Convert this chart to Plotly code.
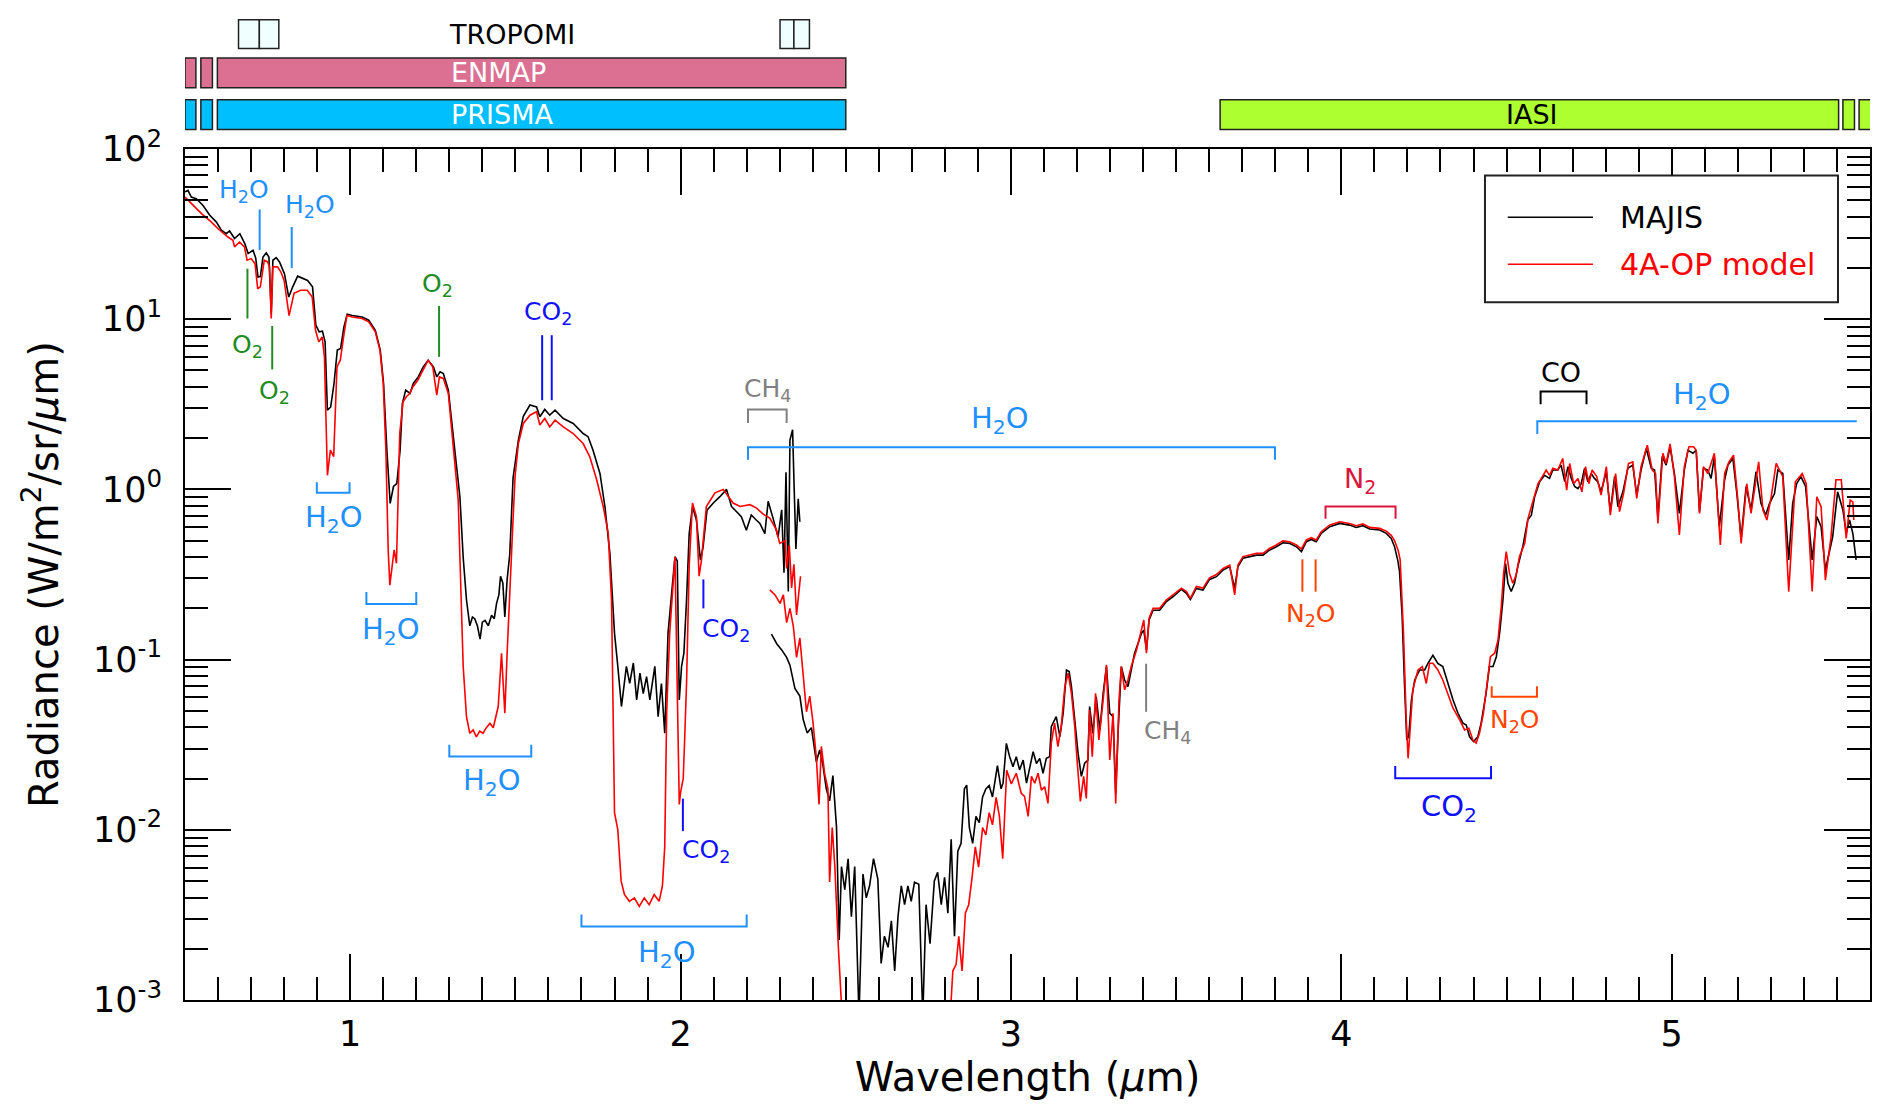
import math

import plotly.graph_objects as go

# Spectra: wavelength in µm, radiance in W/m2/sr/µm.
# MAJIS VIS-NIR channel (black, upper part)
majis_vis_wl = [
    0.5, 0.509, 0.519, 0.534, 0.554, 0.575, 0.595, 0.61, 0.625, 0.635,
    0.65, 0.666, 0.681, 0.691, 0.706, 0.714, 0.721, 0.728, 0.736, 0.746,
    0.754, 0.761, 0.766, 0.776, 0.786, 0.801, 0.814, 0.826, 0.841, 0.856,
    0.871, 0.886, 0.896, 0.906, 0.916, 0.924, 0.931, 0.941, 0.951, 0.961,
    0.971, 0.981, 0.991, 1.006, 1.036, 1.056, 1.076, 1.091, 1.101, 1.111,
    1.121, 1.131, 1.141, 1.151, 1.158, 1.168, 1.181, 1.191, 1.206, 1.221,
    1.236, 1.252, 1.262, 1.272, 1.282, 1.297, 1.312, 1.322, 1.332, 1.342,
    1.352, 1.362, 1.37, 1.377, 1.385, 1.393, 1.4, 1.408, 1.418, 1.428,
    1.436, 1.443, 1.45, 1.455, 1.462, 1.468, 1.475, 1.483, 1.493, 1.509,
    1.524, 1.544, 1.564, 1.574, 1.589, 1.604, 1.62, 1.645, 1.675, 1.705,
    1.72, 1.735, 1.756, 1.771, 1.786, 1.8, 1.81, 1.821, 1.836, 1.846,
    1.857, 1.867, 1.877, 1.887, 1.897, 1.907, 1.922, 1.932, 1.942, 1.952,
    1.962, 1.972, 1.983, 1.99, 1.996, 2.003, 2.01, 2.018, 2.026, 2.036,
    2.048, 2.06, 2.068, 2.08, 2.099, 2.119, 2.139, 2.154, 2.169, 2.184,
    2.199, 2.214, 2.229, 2.24, 2.255, 2.265, 2.28, 2.295, 2.306, 2.313,
    2.319, 2.326, 2.331, 2.339, 2.343, 2.349, 2.356, 2.361,
]
majis_vis_rad = [
    56.0, 57.1, 52.2, 51.0, 46.7, 40.8, 37.2, 33.3, 31.8, 33.0,
    29.8, 31.8, 27.8, 24.3, 25.4, 22.9, 17.7, 17.8, 23.2, 24.5,
    23.2, 10.8, 22.2, 23.0, 21.7, 18.5, 13.5, 15.5, 17.9, 17.3,
    16.9, 15.5, 9.23, 8.43, 8.51, 7.36, 2.92, 3.05, 4.19, 6.58,
    6.73, 9.02, 10.7, 10.5, 10.3, 9.86, 8.61, 6.58, 4.19, 1.70,
    0.828, 1.04, 1.08, 1.70, 3.20, 3.83, 3.66, 4.19, 4.58, 5.25,
    5.74, 5.25, 4.58, 4.91, 4.79, 3.83, 1.95, 1.36, 0.906, 0.398,
    0.224, 0.158, 0.178, 0.174, 0.158, 0.132, 0.166, 0.170, 0.158, 0.182,
    0.174, 0.214, 0.240, 0.309, 0.282, 0.178, 0.295, 0.417, 1.17, 1.95,
    2.69, 3.13, 3.05, 2.67, 2.95, 2.73, 2.92, 2.61, 2.44, 2.13,
    2.04, 1.70, 1.24, 0.791, 0.421, 0.143, 0.0912, 0.0530, 0.0912, 0.0724,
    0.0955, 0.0579, 0.0832, 0.0631, 0.0794, 0.0579, 0.0912, 0.0462, 0.0724, 0.0369,
    0.143, 0.224, 0.402, 0.380, 0.0579, 0.0912, 0.109, 0.224, 0.551, 0.791,
    0.661, 0.384, 0.457, 0.755, 0.832, 0.906, 1.0, 0.794, 0.741, 0.692,
    0.575, 0.708, 0.661, 0.631, 0.550, 0.851, 0.676, 0.525, 0.759, 0.324,
    1.26, 0.251, 1.95, 2.24, 1.15, 0.447, 0.881, 0.646,
]

# MAJIS IR channel (black, lower part)
majis_ir_wl = [
    2.275, 2.291, 2.306, 2.321, 2.331, 2.346, 2.361, 2.371, 2.383, 2.396,
    2.411, 2.421, 2.431, 2.441, 2.451, 2.461, 2.472, 2.48, 2.487, 2.497,
    2.507, 2.517, 2.527, 2.54, 2.552, 2.562, 2.572, 2.584, 2.597, 2.607,
    2.617, 2.628, 2.638, 2.648, 2.658, 2.668, 2.678, 2.688, 2.698, 2.708,
    2.721, 2.733, 2.743, 2.755, 2.768, 2.778, 2.789, 2.799, 2.809, 2.819,
    2.829, 2.839, 2.849, 2.859, 2.866, 2.874, 2.884, 2.894, 2.904, 2.914,
    2.924, 2.934, 2.944, 2.959, 2.97, 2.976, 2.986, 2.996, 3.006, 3.016,
    3.026, 3.037, 3.047, 3.057, 3.067, 3.077, 3.087, 3.097, 3.107, 3.117,
    3.122, 3.132, 3.137, 3.148, 3.158, 3.168, 3.176, 3.183, 3.193, 3.203,
    3.213, 3.223, 3.233, 3.238, 3.248, 3.258, 3.269, 3.279, 3.289, 3.299,
    3.309, 3.317, 3.324, 3.334, 3.344, 3.354, 3.364, 3.374, 3.385, 3.395,
    3.402, 3.41, 3.418, 3.43, 3.45, 3.47, 3.49, 3.516, 3.531, 3.543,
    3.561, 3.581, 3.601, 3.622, 3.642, 3.662, 3.677, 3.687, 3.702, 3.722,
    3.743, 3.763, 3.783, 3.803, 3.823, 3.843, 3.864, 3.879, 3.894, 3.909,
    3.924, 3.939, 3.965, 3.995, 4.025, 4.045, 4.065, 4.086, 4.116, 4.136,
    4.151, 4.161, 4.171, 4.176, 4.184, 4.191, 4.198, 4.204, 4.212, 4.222,
    4.237, 4.252, 4.262, 4.277, 4.292, 4.307, 4.322, 4.338, 4.353, 4.368,
    4.378, 4.388, 4.4, 4.413, 4.423, 4.438, 4.448, 4.459, 4.469, 4.479,
    4.489, 4.497, 4.504, 4.514, 4.524, 4.534, 4.549, 4.564, 4.575, 4.585,
    4.6, 4.615, 4.63, 4.64, 4.655, 4.665, 4.676, 4.686, 4.696, 4.706,
    4.716, 4.726, 4.736, 4.746, 4.756, 4.766, 4.776, 4.786, 4.802, 4.814,
    4.827, 4.837, 4.852, 4.867, 4.882, 4.894, 4.907, 4.923, 4.938, 4.948,
    4.958, 4.971, 4.983, 4.995, 5.008, 5.023, 5.038, 5.049, 5.064, 5.074,
    5.084, 5.096, 5.109, 5.119, 5.129, 5.144, 5.16, 5.17, 5.185, 5.197,
    5.21, 5.225, 5.24, 5.255, 5.27, 5.284, 5.296, 5.311, 5.321, 5.336,
    5.354, 5.366, 5.378, 5.391, 5.405, 5.425, 5.439, 5.452, 5.465, 5.477,
    5.487, 5.502, 5.518, 5.528, 5.538, 5.548, 5.558,
]
majis_ir_rad = [
    0.141, 0.124, 0.114, 0.103, 0.0927, 0.0676, 0.061, 0.0446, 0.0371, 0.0398,
    0.0251, 0.0295, 0.0238, 0.0174, 0.0148, 0.0208, 0.0103, 0.00225, 0.00608, 0.00445,
    0.00676, 0.00309, 0.00608, 0.000794, 0.0055, 0.00398, 0.00469, 0.00676, 0.00513, 0.00164,
    0.00237, 0.00204, 0.00292, 0.00148, 0.00309, 0.00469, 0.00363, 0.00468, 0.0038, 0.00493,
    0.00479, 0.000794, 0.00363, 0.00214, 0.00501, 0.00562, 0.00363, 0.00525, 0.00324, 0.00879,
    0.00237, 0.0075, 0.00832, 0.0174, 0.0183, 0.0103, 0.00832, 0.012, 0.011, 0.0156,
    0.0174, 0.0182, 0.0156, 0.0238, 0.0174, 0.0188, 0.0322, 0.0269, 0.0235, 0.0269,
    0.0225, 0.0257, 0.0188, 0.0234, 0.0288, 0.0245, 0.0263, 0.0215, 0.0263, 0.0269,
    0.0404, 0.0442, 0.0462, 0.0353, 0.0484, 0.0869, 0.0851, 0.0693, 0.0442, 0.0282,
    0.0206, 0.0246, 0.0257, 0.053, 0.0369, 0.0605, 0.0386, 0.0634, 0.091, 0.0484,
    0.0462, 0.0164, 0.0369, 0.091, 0.0759, 0.0693, 0.0869, 0.109, 0.125, 0.143,
    0.149, 0.114, 0.171, 0.195, 0.195, 0.219, 0.234, 0.259, 0.245, 0.226,
    0.262, 0.256, 0.296, 0.307, 0.336, 0.352, 0.262, 0.352, 0.394, 0.402,
    0.411, 0.411, 0.441, 0.460, 0.486, 0.482, 0.460, 0.431, 0.493, 0.508,
    0.493, 0.551, 0.604, 0.631, 0.617, 0.598, 0.612, 0.585, 0.577, 0.552,
    0.515, 0.460, 0.38, 0.33, 0.179, 0.0724, 0.0337, 0.0355, 0.0579, 0.0759,
    0.0869, 0.0869, 0.0951, 0.106, 0.0951, 0.091, 0.0724, 0.0579, 0.0484, 0.0423,
    0.0413, 0.0352, 0.033, 0.0352, 0.0423, 0.0634, 0.091, 0.091, 0.104, 0.143,
    0.224, 0.367, 0.281, 0.251, 0.281, 0.352, 0.46, 0.661, 0.706, 0.906,
    1.11, 1.21, 1.16, 1.30, 1.30, 1.39, 1.11, 1.36, 1.16, 1.04,
    1.01, 1.08, 1.33, 1.11, 1.24, 1.16, 1.11, 0.968, 1.27, 0.74,
    1.19, 0.791, 0.968, 1.33, 1.39, 0.927, 1.30, 1.74, 1.33, 1.30,
    0.676, 1.56, 1.39, 1.78, 1.24, 0.723, 1.30, 1.70, 1.63, 1.70,
    0.74, 1.33, 1.30, 1.16, 1.56, 0.604, 1.14, 1.39, 1.52, 0.946,
    0.515, 1.04, 0.757, 1.27, 0.828, 0.706, 0.828, 0.946, 1.30, 1.24,
    0.385, 0.828, 1.08, 1.19, 1.04, 0.385, 0.692, 0.604, 0.336, 0.431,
    0.527, 0.968, 0.757, 0.552, 0.661, 0.552, 0.385,
]

# 4A-OP model, VIS-NIR part (red, upper part)
model_vis_wl = [
    0.5, 0.52, 0.55, 0.58, 0.6, 0.63, 0.645, 0.65, 0.665, 0.68,
    0.688, 0.7, 0.712, 0.72, 0.728, 0.74, 0.75, 0.756, 0.761, 0.766,
    0.78, 0.79, 0.8, 0.815, 0.83, 0.85, 0.87, 0.885, 0.895, 0.905,
    0.915, 0.922, 0.931, 0.94, 0.95, 0.96, 0.97, 0.98, 0.99, 1.006,
    1.036, 1.056, 1.076, 1.09, 1.1, 1.108, 1.115, 1.12, 1.127, 1.133,
    1.14, 1.15, 1.16, 1.17, 1.18, 1.19, 1.205, 1.22, 1.236, 1.25,
    1.262, 1.27, 1.282, 1.297, 1.312, 1.327, 1.332, 1.342, 1.352, 1.362,
    1.372, 1.382, 1.392, 1.402, 1.412, 1.423, 1.433, 1.448, 1.458, 1.468,
    1.475, 1.483, 1.491, 1.499, 1.509, 1.524, 1.544, 1.564, 1.574, 1.589,
    1.604, 1.62, 1.645, 1.675, 1.705, 1.725, 1.746, 1.766, 1.781, 1.791,
    1.796, 1.8, 1.81, 1.82, 1.83, 1.845, 1.86, 1.875, 1.89, 1.905,
    1.92, 1.935, 1.945, 1.952, 1.958, 1.967, 1.983, 1.99, 1.996, 2.0,
    2.008, 2.013, 2.018, 2.026, 2.036, 2.048, 2.056, 2.063, 2.078, 2.104,
    2.129, 2.144, 2.159, 2.18, 2.21, 2.23, 2.25, 2.27, 2.29, 2.3,
    2.316, 2.321, 2.329, 2.336, 2.343, 2.351, 2.363,
]
model_vis_rad = [
    52.2, 47.8, 41.7, 37.2, 34.0, 30.4, 29.1, 26.6, 28.4, 26.6,
    22.2, 22.7, 21.2, 15.1, 15.5, 22.2, 21.7, 20.3, 10.1, 20.3,
    20.3, 19.0, 16.9, 10.5, 14.2, 14.8, 14.8, 13.5, 8.61, 7.36,
    7.87, 6.01, 1.21, 1.70, 1.56, 5.25, 5.74, 7.87, 10.5, 10.3,
    10.1, 9.64, 8.43, 6.58, 4.19, 1.70, 0.441, 0.274, 0.352, 0.441,
    0.368, 2.13, 3.27, 3.50, 3.66, 4.01, 4.39, 5.02, 5.74, 5.25,
    3.58, 4.58, 4.49, 3.66, 1.86, 0.865, 0.402, 0.091, 0.0462, 0.0369,
    0.0386, 0.0352, 0.038, 0.0369, 0.0398, 0.0423, 0.0398, 0.053, 0.109, 0.0484,
    0.109, 0.224, 0.551, 1.19, 1.86, 2.44, 2.73, 2.86, 2.39, 2.61,
    2.33, 2.55, 2.33, 2.13, 1.86, 1.56, 1.14, 0.791, 0.551, 0.224,
    0.0579, 0.0126, 0.0100, 0.00501, 0.00417, 0.0038, 0.00398, 0.00355, 0.00398, 0.00363,
    0.00417, 0.0038, 0.00468, 0.00794, 0.0501, 0.143, 0.402, 0.0724, 0.0141, 0.0166,
    0.020, 0.0372, 0.0724, 0.355, 0.832, 0.692, 0.309, 0.380, 0.794, 0.955,
    1.0, 0.912, 0.832, 0.794, 0.813, 0.776, 0.715, 0.678, 0.579, 0.482,
    0.501, 0.343, 0.470, 0.264, 0.363, 0.183, 0.309,
]

# 4A-OP model, IR part (red, lower part)
model_ir_wl = [
    2.27, 2.286, 2.301, 2.311, 2.321, 2.331, 2.341, 2.351, 2.361, 2.371,
    2.381, 2.391, 2.401, 2.411, 2.419, 2.426, 2.436, 2.446, 2.451, 2.459,
    2.467, 2.477, 2.487, 2.5, 2.55, 2.65, 2.75, 2.81, 2.824, 2.834,
    2.842, 2.852, 2.862, 2.872, 2.882, 2.892, 2.902, 2.914, 2.924, 2.934,
    2.944, 2.955, 2.965, 2.975, 2.987, 3.001, 3.016, 3.031, 3.041, 3.052,
    3.062, 3.072, 3.082, 3.092, 3.102, 3.112, 3.122, 3.132, 3.142, 3.152,
    3.163, 3.173, 3.183, 3.193, 3.2, 3.21, 3.22, 3.228, 3.238, 3.246,
    3.256, 3.266, 3.279, 3.289, 3.299, 3.309, 3.317, 3.327, 3.334, 3.344,
    3.354, 3.364, 3.38, 3.395, 3.402, 3.41, 3.418, 3.43, 3.45, 3.47,
    3.49, 3.516, 3.531, 3.543, 3.561, 3.581, 3.601, 3.622, 3.642, 3.662,
    3.677, 3.687, 3.702, 3.722, 3.743, 3.763, 3.783, 3.803, 3.823, 3.843,
    3.864, 3.879, 3.894, 3.909, 3.924, 3.939, 3.965, 3.995, 4.025, 4.045,
    4.065, 4.086, 4.116, 4.136, 4.151, 4.161, 4.172, 4.178, 4.188, 4.196,
    4.202, 4.208, 4.216, 4.232, 4.245, 4.257, 4.267, 4.277, 4.292, 4.307,
    4.322, 4.338, 4.358, 4.373, 4.386, 4.398, 4.408, 4.418, 4.43, 4.444,
    4.451, 4.464, 4.474, 4.484, 4.491, 4.499, 4.509, 4.519, 4.529, 4.539,
    4.555, 4.565, 4.58, 4.595, 4.605, 4.62, 4.63, 4.64, 4.655, 4.67,
    4.682, 4.691, 4.703, 4.716, 4.728, 4.739, 4.749, 4.759, 4.773, 4.786,
    4.802, 4.814, 4.83, 4.842, 4.854, 4.869, 4.882, 4.894, 4.907, 4.926,
    4.941, 4.951, 4.958, 4.973, 4.983, 4.995, 5.008, 5.023, 5.038, 5.052,
    5.066, 5.074, 5.084, 5.096, 5.109, 5.129, 5.147, 5.16, 5.173, 5.187,
    5.2, 5.21, 5.227, 5.24, 5.263, 5.276, 5.288, 5.301, 5.316, 5.336,
    5.354, 5.374, 5.395, 5.407, 5.425, 5.439, 5.452, 5.465, 5.482, 5.497,
    5.513, 5.518, 5.528, 5.54, 5.548, 5.551,
]
model_ir_rad = [
    0.257, 0.240, 0.214, 0.240, 0.165, 0.20, 0.158, 0.103, 0.134, 0.0792,
    0.0494, 0.061, 0.0423, 0.0263, 0.0141, 0.0309, 0.0214, 0.0174, 0.00494, 0.0103,
    0.00603, 0.00214, 0.000794, 0.000316, 0.00025, 0.00016, 0.00025, 0.0005, 0.00148, 0.00162,
    0.00237, 0.00148, 0.00325, 0.00363, 0.0052, 0.00794, 0.00603, 0.0103, 0.00933, 0.0126,
    0.0107, 0.0155, 0.012, 0.00676, 0.0224, 0.0186, 0.0215, 0.0164, 0.0157, 0.012,
    0.0206, 0.0188, 0.0215, 0.0171, 0.0179, 0.0143, 0.0322, 0.0423, 0.0308, 0.0404,
    0.0693, 0.0832, 0.0634, 0.0404, 0.0257, 0.0147, 0.0206, 0.0153, 0.0506, 0.0269,
    0.0634, 0.0337, 0.0579, 0.0931, 0.0257, 0.0484, 0.0143, 0.0579, 0.091, 0.0664,
    0.0759, 0.091, 0.114, 0.149, 0.171, 0.109, 0.175, 0.20, 0.20, 0.224,
    0.240, 0.263, 0.251, 0.229, 0.269, 0.263, 0.302, 0.316, 0.343, 0.359,
    0.240, 0.359, 0.403, 0.411, 0.421, 0.421, 0.451, 0.471, 0.498, 0.493,
    0.471, 0.447, 0.505, 0.52, 0.505, 0.564, 0.618, 0.646, 0.631, 0.612,
    0.627, 0.598, 0.590, 0.569, 0.537, 0.501, 0.437, 0.385, 0.143, 0.0462,
    0.0263, 0.0386, 0.0664, 0.0869, 0.091, 0.0724, 0.0951, 0.0951, 0.0869, 0.0759,
    0.0634, 0.0518, 0.0442, 0.0386, 0.0395, 0.0337, 0.0323, 0.0369, 0.0484, 0.0832,
    0.104, 0.109, 0.130, 0.205, 0.321, 0.431, 0.321, 0.281, 0.314, 0.403,
    0.482, 0.676, 0.865, 1.08, 1.16, 1.30, 1.21, 1.33, 1.30, 1.52,
    0.991, 1.42, 1.08, 1.16, 0.968, 1.36, 1.08, 1.30, 1.19, 0.927,
    1.36, 0.706, 1.24, 0.740, 0.946, 1.42, 1.45, 0.885, 1.36, 1.82,
    1.30, 1.24, 0.631, 1.63, 1.42, 1.85, 1.19, 0.540, 1.36, 1.78,
    1.78, 1.70, 0.723, 1.36, 1.24, 1.63, 0.471, 1.24, 1.45, 1.59,
    0.865, 0.482, 1.08, 0.723, 1.45, 0.757, 0.661, 0.906, 1.42, 1.19,
    0.251, 1.11, 1.24, 1.08, 0.251, 0.906, 0.791, 0.293, 0.527, 1.14,
    1.14, 0.865, 0.515, 0.865, 0.845, 0.661,
]

# Tick labels
x_tick_vals = [1, 2, 3, 4, 5]
y_tick_vals = [1e-3, 1e-2, 1e-1, 1e0, 1e1, 1e2]
y_tick_text = ["10<sup>-3</sup>", "10<sup>-2</sup>", "10<sup>-1</sup>",
               "10<sup>0</sup>", "10<sup>1</sup>", "10<sup>2</sup>"]

# Spectral coverage of other instruments (µm)
tropomi_bands = [(0.662, 0.725), (0.725, 0.784), (2.301, 2.343), (2.343, 2.39)]
enmap_bands = [(0.5, 0.533), (0.548, 0.583), (0.598, 2.5)]
prisma_bands = [(0.5, 0.533), (0.548, 0.583), (0.598, 2.5)]
iasi_bands = [(3.633, 5.505), (5.518, 5.553), (5.567, 5.61)]

FONT = "DejaVu Sans"
C_H2O = "#1E90FF"
C_O2 = "#228B22"
C_CO2 = "#1010FF"
C_CH4 = "#808080"
C_N2O = "#FF4500"
C_N2 = "#DC143C"

fig = go.Figure()

fig.add_trace(go.Scatter(
    x=majis_vis_wl + [None] + majis_ir_wl,
    y=majis_vis_rad + [None] + majis_ir_rad,
    mode="lines", line=dict(color="black", width=1.6),
    name="MAJIS", showlegend=False,
))
fig.add_trace(go.Scatter(
    x=model_vis_wl + [None] + model_ir_wl,
    y=model_vis_rad + [None] + model_ir_rad,
    mode="lines", line=dict(color="#FF0000", width=1.6),
    name="4A-OP model", showlegend=False,
))


def add_path(xs, ys_log, color):
    # annotation strokes, y given as log10 of radiance
    fig.add_trace(go.Scatter(
        x=xs, y=[10 ** v for v in ys_log], mode="lines",
        line=dict(color=color, width=2), hoverinfo="skip", showlegend=False,
    ))


def add_bracket(x0, x1, y_line, y_tip, color, left_only=False):
    if left_only:
        add_path([x0, x0, x1], [y_tip, y_line, y_line], color)
    else:
        add_path([x0, x0, x1, x1], [y_tip, y_line, y_line, y_tip], color)


# band brackets
add_bracket(2.204, 2.321, 0.47, 0.39, C_CH4)
add_bracket(2.204, 3.799, 0.248, 0.174, C_H2O)
add_bracket(0.899, 0.998, -0.02, 0.042, C_H2O)
add_bracket(1.049, 1.2, -0.674, -0.603, C_H2O)
add_bracket(1.30, 1.548, -1.57, -1.50, C_H2O)
add_bracket(1.70, 2.20, -2.568, -2.497, C_H2O)
add_bracket(3.952, 4.164, -0.10, -0.172, C_N2)
add_bracket(4.163, 4.453, -1.697, -1.625, C_CO2)
add_bracket(4.455, 4.592, -1.218, -1.157, C_N2O)
add_bracket(4.603, 4.742, 0.575, 0.50, "black")
add_bracket(4.593, 5.56, 0.40, 0.325, C_H2O, left_only=True)

# single-line markers
add_path([0.726, 0.726], [1.406, 1.645], C_H2O)
add_path([0.823, 0.823], [1.300, 1.542], C_H2O)
add_path([0.689, 0.689], [1.004, 1.297], C_O2)
add_path([0.764, 0.764], [0.705, 0.960], C_O2)
add_path([1.269, 1.269], [0.779, 1.078], C_O2)
add_path([1.581, 1.581], [0.524, 0.906], C_CO2)
add_path([1.610, 1.610], [0.524, 0.906], C_CO2)
add_path([2.069, 2.069], [-0.699, -0.529], C_CO2)
add_path([2.007, 2.007], [-2.008, -1.817], C_CO2)
add_path([3.409, 3.409], [-1.307, -1.024], C_CH4)
add_path([3.882, 3.882], [-0.601, -0.411], C_N2O)
add_path([3.922, 3.922], [-0.601, -0.411], C_N2O)

# species labels: text, x (µm), y (log10 radiance), size, colour
species_labels = [
    ("H<sub>2</sub>O", 0.68, 1.755, 25, C_H2O),
    ("H<sub>2</sub>O", 0.879, 1.665, 25, C_H2O),
    ("O<sub>2</sub>", 0.69, 0.845, 25, C_O2),
    ("O<sub>2</sub>", 0.77, 0.57, 25, C_O2),
    ("O<sub>2</sub>", 1.265, 1.20, 25, C_O2),
    ("CO<sub>2</sub>", 1.598, 1.035, 25, C_CO2),
    ("CH<sub>4</sub>", 2.262, 0.582, 25, C_CH4),
    ("H<sub>2</sub>O", 2.967, 0.41, 29, C_H2O),
    ("H<sub>2</sub>O", 0.951, -0.172, 29, C_H2O),
    ("H<sub>2</sub>O", 1.124, -0.832, 29, C_H2O),
    ("H<sub>2</sub>O", 1.428, -1.722, 29, C_H2O),
    ("H<sub>2</sub>O", 1.959, -2.729, 29, C_H2O),
    ("CO<sub>2</sub>", 2.137, -0.824, 25, C_CO2),
    ("CO<sub>2</sub>", 2.076, -2.125, 25, C_CO2),
    ("CH<sub>4</sub>", 3.475, -1.423, 25, C_CH4),
    ("N<sub>2</sub>O", 3.909, -0.74, 25, C_N2O),
    ("N<sub>2</sub>", 4.055, 0.05, 27, C_N2),
    ("CO<sub>2</sub>", 4.325, -1.872, 29, C_CO2),
    ("N<sub>2</sub>O", 4.526, -1.358, 25, C_N2O),
    ("CO", 4.665, 0.684, 27, "black"),
    ("H<sub>2</sub>O", 5.092, 0.55, 29, C_H2O),
]
for text, x, y, size, color in species_labels:
    fig.add_annotation(x=x, y=y, xref="x", yref="y", text=text, showarrow=False,
                       xanchor="center", yanchor="middle",
                       font=dict(family=FONT, size=size, color=color))


# instrument coverage bars above the plot
def add_bars(bands, y0, y1, fill):
    for a, b in bands:
        fig.add_shape(type="rect", xref="x", yref="paper", x0=a, x1=b, y0=y0, y1=y1,
                      fillcolor=fill, line=dict(color="#222222", width=1.5))


add_bars(tropomi_bands, 1.118, 1.152, "#F0FFFF")
add_bars(enmap_bands, 1.072, 1.107, "#DB7093")
add_bars(prisma_bands, 1.023, 1.058, "#00BFFF")
add_bars(iasi_bands, 1.023, 1.058, "#ADFF2F")

bar_labels = [
    ("TROPOMI", 1.49, 1.1345, "black", 27),
    ("ENMAP", 1.45, 1.0895, "white", 27),
    ("PRISMA", 1.46, 1.0405, "white", 27),
    ("IASI", 4.578, 1.0405, "black", 27),
]
for text, x, y, color, size in bar_labels:
    fig.add_annotation(x=x, y=y, xref="x", yref="paper", text=text, showarrow=False,
                       xanchor="center", yanchor="middle",
                       font=dict(family=FONT, size=size, color=color))

# legend drawn by hand to match the boxed legend of the original
fig.add_shape(type="rect", xref="paper", yref="paper", x0=0.7715, x1=0.981, y0=0.820, y1=0.969,
              line=dict(color="#222222", width=2), fillcolor="white", layer="above")
legend_rows = [("MAJIS", "black", 0.9198), ("4A-OP model", "#FF0000", 0.8646)]
for name, color, y in legend_rows:
    fig.add_shape(type="line", xref="paper", yref="paper", x0=0.785, x1=0.8356, y0=y, y1=y,
                  line=dict(color=color, width=1.6), layer="above")
    fig.add_annotation(x=0.8504, y=y, xref="paper", yref="paper", text=name, showarrow=False,
                       xanchor="left", yanchor="middle",
                       font=dict(family=FONT, size=30, color=color))

x_minor = [round(0.5 + 0.1 * i, 1) for i in range(52)]
y_minor = [m * 10.0 ** e for e in range(-3, 2) for m in range(2, 10)]

axis_common = dict(
    showline=True, linecolor="black", linewidth=2, mirror="allticks",
    ticks="inside", ticklen=46, tickwidth=1.5, tickcolor="black",
    showgrid=False, zeroline=False,
    tickfont=dict(family=FONT, size=35, color="black"),
)

fig.update_xaxes(
    range=[0.5, 5.6], tickmode="array", tickvals=x_tick_vals,
    ticklabelstandoff=2,
    minor=dict(tickmode="array", tickvals=x_minor, ticks="inside", ticklen=23,
               tickwidth=1.5, tickcolor="black"),
    title=dict(text="Wavelength (<i>µ</i>m)", font=dict(family=FONT, size=40, color="black"),
               standoff=0),
    **axis_common,
)
fig.update_yaxes(
    type="log", range=[-3, 2], tickmode="array", tickvals=y_tick_vals, ticktext=y_tick_text,
    ticklabelstandoff=14,
    minor=dict(tickmode="array", tickvals=y_minor, ticks="inside", ticklen=23,
               tickwidth=1.5, tickcolor="black"),
    title=dict(text="Radiance (W/m<sup>2</sup>/sr/<i>µ</i>m)",
               font=dict(family=FONT, size=40, color="black"), standoff=22),
    **axis_common,
)

fig.update_layout(
    width=1892, height=1111, autosize=False,
    margin=dict(l=185, r=22, t=149, b=111),
    paper_bgcolor="white", plot_bgcolor="white",
    font=dict(family=FONT, color="black"),
    showlegend=False,
)

# the page's default body margin would push the figure 8 px down and right
fig.write_html("out.html", config={"displayModeBar": False},
               post_script="document.body.style.margin = '0px';")
